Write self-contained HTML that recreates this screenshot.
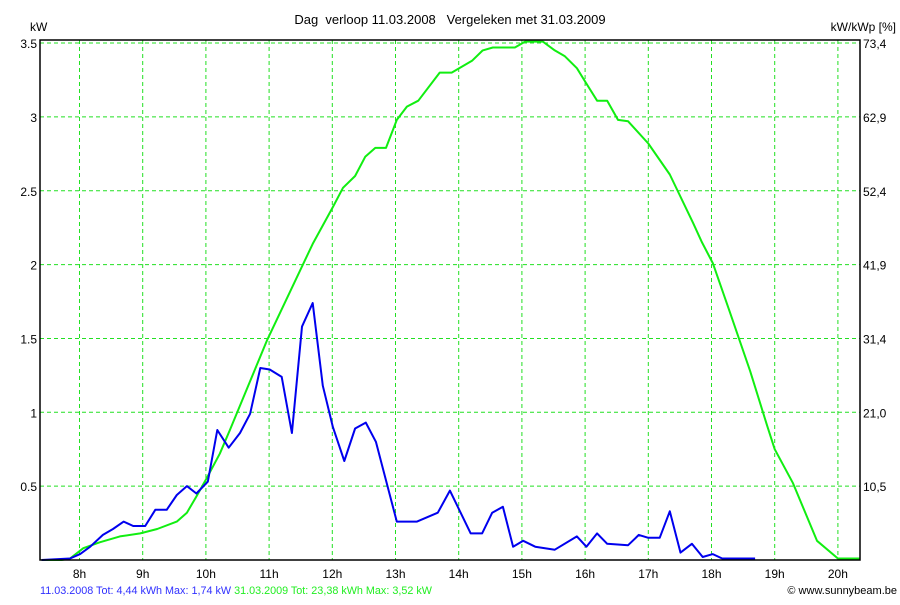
<!DOCTYPE html>
<html><head><meta charset="utf-8"><style>
body{margin:0;background:#fff;}
svg text{font-family:"Liberation Sans",Arial,sans-serif;font-size:12px;}
</style></head><body>
<svg width="900" height="600" xmlns="http://www.w3.org/2000/svg">
<rect width="900" height="600" fill="#fff"/>
<g id="grid"></g>
<g id="series"></g>
<rect x="40" y="40" width="820" height="520" fill="none" stroke="#000" stroke-width="1.5"/>
<g id="labels"></g>
<text x="450" y="24" text-anchor="middle" style="font-size:13px;white-space:pre">Dag&#160; verloop 11.03.2008&#160;&#160; Vergeleken met 31.03.2009</text>
<text x="30" y="31">kW</text>
<text x="896" y="31" text-anchor="end">kW/kWp [%]</text>
<text x="40" y="594" style="font-size:10.8px"><tspan fill="#3030ff">11.03.2008 Tot: 4,44 kWh Max: 1,74 kW </tspan><tspan fill="#22ee22">31.03.2009 Tot: 23,38 kWh Max: 3,52 kW</tspan></text>
<text x="897" y="594" text-anchor="end" style="font-size:11px">© www.sunnybeam.be</text>
</svg>
<script>
const hourTicks=[8,9,10,11,12,13,14,15,16,17,18,19,20];
const yTicks=[0.5,1,1.5,2,2.5,3,3.5];
const yTickLabels=["0.5","1","1.5","2","2.5","3","3.5"];
const y2TickLabels=["10,5","21,0","31,4","41,9","52,4","62,9","73,4"];
const blueTimes=[7.40,7.85,8.01,8.17,8.37,8.53,8.70,8.85,9.04,9.20,9.38,9.54,9.70,9.85,10.03,10.18,10.36,10.54,10.70,10.86,11.01,11.20,11.36,11.52,11.69,11.85,12.01,12.19,12.36,12.53,12.69,13.02,13.34,13.67,13.86,14.19,14.37,14.53,14.70,14.86,15.02,15.21,15.52,15.87,16.02,16.19,16.35,16.68,16.85,17.00,17.18,17.34,17.51,17.69,17.86,18.02,18.17,18.69];
const blueValues=[0,0.01,0.04,0.09,0.17,0.21,0.26,0.23,0.23,0.34,0.34,0.44,0.50,0.45,0.53,0.88,0.76,0.86,0.99,1.30,1.29,1.24,0.86,1.58,1.74,1.18,0.90,0.67,0.89,0.93,0.80,0.26,0.26,0.32,0.47,0.18,0.18,0.32,0.36,0.09,0.13,0.09,0.07,0.16,0.09,0.18,0.11,0.10,0.17,0.15,0.15,0.33,0.05,0.11,0.02,0.04,0.01,0.01];
const greenTimes=[7.40,7.72,7.85,8.06,8.32,8.64,8.96,9.23,9.54,9.70,9.85,10.02,10.22,10.38,10.97,11.69,12.01,12.17,12.36,12.52,12.68,12.85,13.02,13.18,13.36,13.70,13.89,14.21,14.38,14.54,14.89,15.05,15.33,15.52,15.68,15.87,16.00,16.19,16.35,16.52,16.68,17.00,17.34,17.71,17.85,18.02,18.29,18.61,18.88,19.00,19.29,19.67,20.00,20.35];
const greenValues=[0,0,0.01,0.08,0.12,0.16,0.18,0.21,0.26,0.32,0.43,0.56,0.72,0.88,1.49,2.14,2.39,2.52,2.60,2.73,2.79,2.79,2.98,3.07,3.11,3.30,3.30,3.38,3.45,3.47,3.47,3.51,3.51,3.45,3.41,3.33,3.24,3.11,3.11,2.98,2.97,2.82,2.61,2.28,2.15,2.01,1.68,1.28,0.91,0.75,0.52,0.13,0.01,0.01];
const NS="http://www.w3.org/2000/svg";
function xs(h){return 79.5+(h-8)*63.2;}
function ys(v){return 560-v*147.7;}
function mk(tag,attrs,parent){const e=document.createElementNS(NS,tag);for(const k in attrs)e.setAttribute(k,attrs[k]);parent.appendChild(e);return e;}
const grid=document.getElementById('grid'),labels=document.getElementById('labels'),series=document.getElementById('series');
hourTicks.forEach(h=>{
  const l=mk('line',{x1:xs(h),x2:xs(h),y1:40,y2:560,stroke:'#22e022','stroke-dasharray':'4,3','stroke-width':1},grid);
  
  
  const t=mk('text',{x:xs(h),y:578,'text-anchor':'middle'},labels);t.textContent=h+'h';
  
  
});
yTicks.forEach((v,i)=>{
  const l=mk('line',{x1:40,x2:860,y1:ys(v),y2:ys(v),stroke:'#22e022','stroke-dasharray':'4,3','stroke-width':1},grid);
  
  
  const t=mk('text',{x:37,y:ys(v)+5,'text-anchor':'end'},labels);t.textContent=yTickLabels[i];
  
  
  const t2=mk('text',{x:863,y:ys(v)+5},labels);t2.textContent=y2TickLabels[i];
  
  
});
function line(times,vals,color,name){
  const pts=times.map((t,i)=>xs(t).toFixed(1)+','+ys(vals[i]).toFixed(1)).join(' ');
  const p=mk('polyline',{points:pts,fill:'none',stroke:color,'stroke-width':2,'stroke-linejoin':'round'},series);
  
  
}
line(greenTimes,greenValues,'#11ee11','series-31-03-2009');
line(blueTimes,blueValues,'#0000ee','series-11-03-2008');
</script>
</body></html>
